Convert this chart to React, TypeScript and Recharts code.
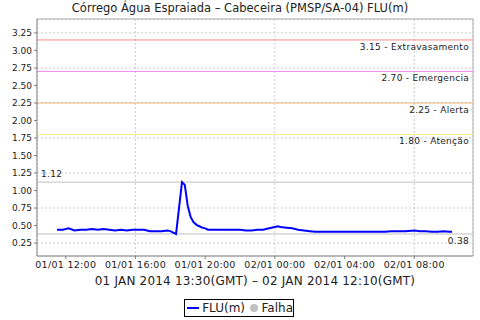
import React from 'react'
import { LineChart, Line, XAxis, YAxis, CartesianGrid, ReferenceLine } from 'recharts'

// hours since 01/01 00:00 (local)
const hours = [
  11.5, 11.83, 12.17, 12.5, 12.83, 13.17, 13.5, 13.83, 14.17, 14.5, 14.83, 15.17, 15.5, 15.83,
  16.17, 16.5, 16.83, 17.17, 17.5, 17.83, 18.0, 18.17, 18.33, 18.67, 18.83, 19.0, 19.17, 19.33,
  19.5, 19.67, 19.83, 20.0, 20.17, 20.5, 21.0, 21.5, 22.0, 22.33, 22.67, 23.0, 23.33, 23.67,
  24.0, 24.17, 24.33, 24.67, 25.0, 25.33, 25.67, 26.0, 26.33, 27.0, 28.0, 29.0, 30.0, 30.33,
  30.67, 31.0, 31.5, 32.0, 32.33, 32.67, 33.0, 33.33, 33.67, 34.0, 34.17
]
const flu = [
  0.44, 0.44, 0.46, 0.43, 0.44, 0.44, 0.45, 0.44, 0.45, 0.44, 0.43, 0.44, 0.43, 0.44,
  0.44, 0.44, 0.42, 0.42, 0.42, 0.43, 0.42, 0.40, 0.38, 1.12, 1.08, 0.78, 0.62, 0.55,
  0.51, 0.49, 0.47, 0.46, 0.44, 0.44, 0.44, 0.44, 0.44, 0.43, 0.43, 0.44, 0.44, 0.46,
  0.48, 0.49, 0.48, 0.47, 0.46, 0.44, 0.43, 0.42, 0.41, 0.41, 0.41, 0.41, 0.41, 0.41,
  0.42, 0.42, 0.42, 0.43, 0.42, 0.42, 0.41, 0.41, 0.42, 0.41, 0.41
]

const xTicks = [12, 16, 20, 24, 28, 32]
const xTickLabels = ['01/01 12:00', '01/01 16:00', '01/01 20:00', '02/01 00:00', '02/01 04:00', '02/01 08:00']
const yTicks = [0.25, 0.5, 0.75, 1.0, 1.25, 1.5, 1.75, 2.0, 2.25, 2.5, 2.75, 3.0, 3.25]

const limits = [
  { value: 3.15, name: 'Extravasamento', color: '#ff8a8a' },
  { value: 2.7, name: 'Emergencia', color: '#f08cf0' },
  { value: 2.25, name: 'Alerta', color: '#f5b47a' },
  { value: 1.8, name: 'Atenção', color: '#fbec8c' }
]
const maxValue = 1.12
const minValue = 0.38

const data = hours.map((h, i) => ({ h, flu: flu[i] }))

const font = '"DejaVu Sans", sans-serif'

const rightLabel = (text: string) => (props: any) => {
  const vb = props.viewBox
  return (
    <text x={vb.x + vb.width - 4} y={vb.y + 10} textAnchor="end" fontSize={9} fontFamily={font} fill="#222" letterSpacing={0.3}>
      {text}
    </text>
  )
}

const leftLabel = (text: string) => (props: any) => {
  const vb = props.viewBox
  return (
    <text x={vb.x + 4} y={vb.y - 5} textAnchor="start" fontSize={9} fontFamily={font} fill="#222" letterSpacing={0.3}>
      {text}
    </text>
  )
}

export default function App() {
  return (
    <div style={{ position: 'absolute', left: 0, top: 0, width: 480, height: 320, background: '#fff', fontFamily: font }}>
      <div style={{ position: 'absolute', left: 0, top: 1, width: 480, textAlign: 'center', fontSize: 11.5, color: '#222' }}>
        Córrego Água Espraiada – Cabeceira (PMSP/SA-04) FLU(m)
      </div>
      <LineChart width={480} height={320} data={data} margin={{ top: 19, right: 7, left: 0, bottom: 44 }}>
        <CartesianGrid stroke="#cccccc" strokeDasharray="2 2" />
        <XAxis
          dataKey="h"
          type="number"
          domain={[10.35, 35.37]}
          ticks={xTicks}
          tickFormatter={(v: number) => xTickLabels[xTicks.indexOf(v)]}
          height={20}
          tickSize={3}
          stroke="#808080"
          tick={{ fontSize: 9.5, fontFamily: font, fill: '#222', letterSpacing: 0.3 }}
          allowDataOverflow
        />
        <YAxis
          type="number"
          domain={[0.065, 3.449]}
          ticks={yTicks}
          tickFormatter={(v: number) => v.toFixed(2)}
          width={37}
          tickSize={3}
          stroke="#808080"
          tick={{ fontSize: 9, fontFamily: font, fill: '#222' }}
          allowDataOverflow
        />
        <ReferenceLine y={3.449} stroke="#b0b0b0" />
        <ReferenceLine x={35.37} stroke="#b0b0b0" />
        {limits.map((l) => (
          <ReferenceLine
            key={l.name}
            y={l.value}
            stroke={l.color}
            strokeWidth={1}
            label={rightLabel(`${l.value.toFixed(2)} - ${l.name}`)}
          />
        ))}
        <ReferenceLine y={maxValue} stroke="#c0c0c0" label={leftLabel(maxValue.toFixed(2))} />
        <ReferenceLine y={minValue} stroke="#c0c0c0" label={rightLabel(minValue.toFixed(2))} />
        <Line type="linear" dataKey="flu" stroke="#0000ff" strokeWidth={2} dot={false} isAnimationActive={false} />
      </LineChart>
      <div style={{ position: 'absolute', left: 37, top: 274, width: 436, textAlign: 'center', fontSize: 12, color: '#222', letterSpacing: 0.2 }}>
        01 JAN 2014 13:30(GMT) – 02 JAN 2014 12:10(GMT)
      </div>
      <div
        style={{
          position: 'absolute', left: 184, top: 299, width: 110, height: 18, border: '1px solid #000',
          display: 'flex', alignItems: 'center', fontSize: 12, color: '#222', boxSizing: 'border-box'
        }}
      >
        <span style={{ display: 'inline-block', width: 13, height: 2, background: '#0000ff', marginLeft: 2, marginRight: 3 }} />
        <span>FLU(m)</span>
        <span style={{ display: 'inline-block', width: 8, height: 8, borderRadius: 4, background: '#c0c0c0', marginLeft: 5, marginRight: 4 }} />
        <span>Falha</span>
      </div>
    </div>
  )
}
